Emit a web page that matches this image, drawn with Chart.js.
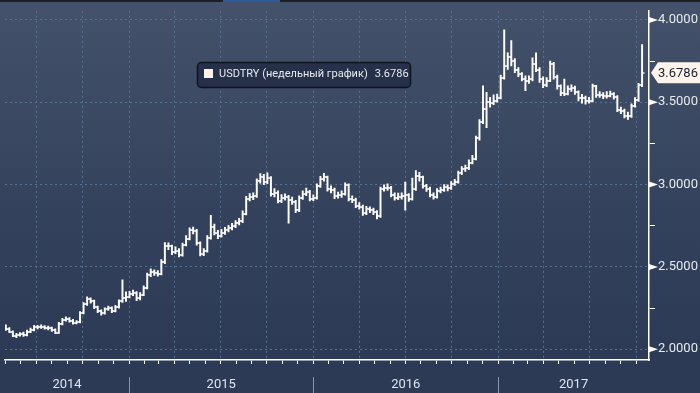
<!DOCTYPE html>
<html>
<head>
<meta charset="utf-8">
<script src="https://cdn.jsdelivr.net/npm/chart.js@4.4.0/dist/chart.umd.min.js"></script>
<style>
  html, body { margin: 0; padding: 0; background: #2c3a56; }
  #wrap { width: 700px; height: 393px; position: relative; }
</style>
</head>
<body>
<div id="wrap"><canvas id="usdtry"></canvas></div>
<script>
// weekly bars, first bar dated this Friday
const firstWeek = "2014-05-02";
const seriesLabel = "USDTRY (недельный график)";
const lastValue = "3.6786";
const yearLabels = ["2014", "2015", "2016", "2017"];
const yTicks = [2.0, 2.25, 2.5, 2.75, 3.0, 3.25, 3.5, 3.75, 4.0];

const opens = [2.140,2.125,2.107,2.083,2.089,2.092,2.086,2.107,2.119,2.136,
  2.133,2.138,2.131,2.128,2.118,2.100,2.154,2.178,2.184,2.172,
  2.160,2.163,2.220,2.273,2.303,2.291,2.255,2.231,2.220,2.243,
  2.249,2.231,2.255,2.291,2.309,2.320,2.338,2.344,2.309,2.332,
  2.374,2.451,2.469,2.466,2.457,2.528,2.629,2.625,2.588,2.599,
  2.570,2.635,2.671,2.724,2.718,2.647,2.576,2.599,2.677,2.742,
  2.706,2.688,2.706,2.724,2.736,2.748,2.766,2.777,2.824,2.914,
  2.926,2.930,3.021,3.045,3.015,3.039,2.944,2.950,2.902,2.920,
  2.926,2.908,2.896,2.843,2.920,2.944,2.955,2.914,2.920,2.991,
  3.033,3.045,2.973,2.968,2.932,2.935,2.944,2.997,2.914,2.908,
  2.872,2.866,2.825,2.849,2.845,2.831,2.807,2.973,2.979,2.982,
  2.938,2.920,2.926,2.932,2.935,2.914,2.973,3.050,3.046,2.991,
  2.973,2.938,2.926,2.961,2.967,2.985,2.979,3.003,3.015,3.068,
  3.092,3.098,3.134,3.157,3.282,3.377,3.460,3.501,3.496,3.507,
  3.525,3.650,3.720,3.775,3.750,3.697,3.672,3.644,3.632,3.644,
  3.733,3.697,3.644,3.602,3.632,3.733,3.656,3.596,3.555,3.552,
  3.579,3.585,3.561,3.525,3.528,3.507,3.510,3.596,3.543,3.546,
  3.537,3.540,3.549,3.531,3.454,3.448,3.418,3.415,3.478,3.513,
  3.602];

const highs = [2.148,2.132,2.112,2.097,2.101,2.104,2.116,2.128,2.145,2.146,
  2.149,2.144,2.140,2.134,2.124,2.163,2.188,2.197,2.192,2.181,
  2.174,2.228,2.284,2.318,2.312,2.298,2.262,2.240,2.251,2.262,
  2.258,2.266,2.300,2.421,2.348,2.352,2.360,2.350,2.344,2.385,
  2.463,2.488,2.482,2.478,2.545,2.648,2.646,2.632,2.622,2.612,
  2.645,2.690,2.738,2.742,2.728,2.652,2.612,2.690,2.813,2.760,
  2.722,2.728,2.740,2.752,2.764,2.781,2.795,2.840,2.928,2.945,
  2.950,3.035,3.067,3.062,3.071,3.048,2.975,2.962,2.940,2.944,
  2.935,2.924,2.905,2.932,2.962,2.978,2.965,2.938,3.005,3.050,
  3.068,3.052,2.992,2.978,2.955,2.962,3.010,3.004,2.932,2.918,
  2.890,2.875,2.868,2.865,2.858,2.842,2.985,2.998,3.005,2.990,
  2.950,2.948,2.950,3.015,2.945,3.040,3.085,3.075,3.052,3.002,
  2.985,2.950,2.975,2.985,3.000,2.998,3.018,3.032,3.082,3.110,
  3.118,3.150,3.178,3.295,3.395,3.600,3.560,3.530,3.545,3.550,
  3.665,3.940,3.800,3.875,3.765,3.710,3.680,3.660,3.660,3.770,
  3.800,3.710,3.655,3.650,3.750,3.742,3.665,3.605,3.640,3.600,
  3.605,3.598,3.570,3.548,3.538,3.530,3.610,3.602,3.565,3.558,
  3.565,3.568,3.558,3.540,3.470,3.458,3.440,3.490,3.528,3.615,
  3.850];

const lows = [2.115,2.100,2.076,2.070,2.080,2.078,2.081,2.101,2.112,2.124,
  2.126,2.122,2.118,2.109,2.094,2.096,2.148,2.170,2.164,2.152,
  2.154,2.160,2.214,2.266,2.280,2.246,2.222,2.207,2.213,2.236,
  2.222,2.226,2.250,2.284,2.290,2.312,2.326,2.295,2.300,2.326,
  2.366,2.440,2.448,2.444,2.452,2.520,2.605,2.574,2.580,2.560,
  2.565,2.628,2.664,2.700,2.632,2.566,2.568,2.590,2.668,2.695,
  2.672,2.680,2.698,2.712,2.724,2.738,2.755,2.768,2.815,2.900,
  2.908,2.922,3.008,3.000,3.005,2.930,2.925,2.888,2.890,2.905,
  2.766,2.880,2.830,2.835,2.910,2.932,2.900,2.902,2.912,2.982,
  3.020,2.960,2.950,2.915,2.918,2.922,2.935,2.900,2.890,2.860,
  2.850,2.812,2.818,2.830,2.818,2.792,2.800,2.960,2.965,2.925,
  2.905,2.908,2.912,2.845,2.898,2.905,2.965,3.020,2.978,2.958,
  2.925,2.912,2.918,2.950,2.958,2.962,2.970,2.995,3.008,3.060,
  3.080,3.090,3.125,3.150,3.270,3.370,3.345,3.470,3.485,3.500,
  3.520,3.640,3.700,3.720,3.680,3.655,3.630,3.570,3.615,3.630,
  3.685,3.620,3.588,3.595,3.625,3.640,3.580,3.540,3.540,3.545,
  3.565,3.548,3.508,3.495,3.488,3.495,3.502,3.530,3.530,3.522,
  3.525,3.532,3.518,3.442,3.430,3.405,3.395,3.408,3.470,3.505,
  3.595];

const closes = [2.125,2.107,2.083,2.089,2.092,2.086,2.107,2.119,2.136,2.133,
  2.138,2.131,2.128,2.118,2.100,2.154,2.178,2.184,2.172,2.160,
  2.163,2.220,2.273,2.303,2.291,2.255,2.231,2.220,2.243,2.249,
  2.231,2.255,2.291,2.309,2.320,2.338,2.344,2.309,2.332,2.374,
  2.451,2.469,2.466,2.457,2.528,2.629,2.625,2.588,2.599,2.570,
  2.635,2.671,2.724,2.718,2.647,2.576,2.599,2.677,2.742,2.706,
  2.688,2.706,2.724,2.736,2.748,2.766,2.777,2.824,2.914,2.926,
  2.930,3.021,3.045,3.015,3.039,2.944,2.950,2.902,2.920,2.926,
  2.908,2.896,2.843,2.920,2.944,2.955,2.914,2.920,2.991,3.033,
  3.045,2.973,2.968,2.932,2.935,2.944,2.997,2.914,2.908,2.872,
  2.866,2.825,2.849,2.845,2.831,2.807,2.973,2.979,2.982,2.938,
  2.920,2.926,2.932,2.935,2.914,2.973,3.050,3.046,2.991,2.973,
  2.938,2.926,2.961,2.967,2.985,2.979,3.003,3.015,3.068,3.092,
  3.098,3.134,3.157,3.282,3.377,3.460,3.501,3.496,3.507,3.525,
  3.650,3.720,3.775,3.750,3.697,3.672,3.644,3.632,3.644,3.733,
  3.697,3.644,3.602,3.632,3.733,3.656,3.596,3.555,3.552,3.579,
  3.585,3.561,3.525,3.528,3.507,3.510,3.596,3.543,3.546,3.537,
  3.540,3.549,3.531,3.454,3.448,3.418,3.415,3.478,3.513,3.602,
  3.6786];

// days counted from 1 Jan 2014
const DAY = 86400000;
const EPOCH = Date.UTC(2014, 0, 1);
function dayNum(y, m, d) { return (Date.UTC(y, m, d) - EPOCH) / DAY; }

const [fy, fm, fd] = firstWeek.split("-").map(Number);
const day0 = dayNum(fy, fm - 1, fd);
const weekDays = closes.map((_, i) => day0 + 7 * i);

const X_MIN = 119.4, X_MAX = 1394.7;

const monthTicks = [];
const quarterDays = new Set();
for (let y = 2014; y <= 2017; y++) {
  for (let m = 0; m < 12; m++) {
    const d = dayNum(y, m, 1);
    if (d < X_MIN || d > X_MAX) continue;
    monthTicks.push(d);
    if (m % 3 === 0) quarterDays.add(d);
  }
}

const GRID = "#557391";
const NONE = "rgba(0,0,0,0)";
const isMajor = v => Math.abs(v * 2 - Math.round(v * 2)) < 1e-6;

function tickMark(side) {
  const c = document.createElement("canvas");
  c.width = 6; c.height = 2;
  const g = c.getContext("2d");
  g.fillStyle = "#ffffff";
  g.fillRect(side === "left" ? 0.5 : 3, 0.35, 2.5, 1.3);
  return c;
}

const decor = {
  id: "decor",
  beforeDraw(chart) {
    const { ctx, width, chartArea } = chart;
    const grad = ctx.createLinearGradient(0, 0, 0, chartArea.bottom);
    grad.addColorStop(0, "#45526b");
    grad.addColorStop(0.15, "#404d67");
    grad.addColorStop(0.4, "#394760");
    grad.addColorStop(0.6, "#33415c");
    grad.addColorStop(1, "#2c3a55");
    ctx.save();
    ctx.fillStyle = grad;
    ctx.fillRect(0, 0, width, chartArea.bottom);
    ctx.fillStyle = "#2c3a56";
    ctx.fillRect(0, chartArea.bottom, width, chart.height - chartArea.bottom);
    // toolbar strip on top
    ctx.fillStyle = "#1d1f24";
    ctx.fillRect(0, 0, width, 2);
    ctx.fillStyle = "#2d5b9e";
    ctx.fillRect(223, 0, 57, 2);
    ctx.restore();
  },
  afterDraw(chart) {
    const { ctx, chartArea } = chart;
    const xs = chart.scales.x, ys = chart.scales.y;
    ctx.save();

    // year separators and labels
    ctx.font = "13px Roboto";
    ctx.fillStyle = "#dfe5ee";
    ctx.textAlign = "center";
    ctx.textBaseline = "middle";
    yearLabels.forEach(lab => {
      const yr = Number(lab);
      const a = Math.max(chartArea.left, xs.getPixelForValue(dayNum(yr, 0, 1)));
      const b = Math.min(chartArea.right, xs.getPixelForValue(dayNum(yr + 1, 0, 1)));
      ctx.fillText(lab, (a + b) / 2, 385);
      if (a > chartArea.left + 1) {
        ctx.strokeStyle = "#8a94a8";
        ctx.lineWidth = 1;
        ctx.beginPath();
        ctx.moveTo(Math.round(a) + 0.5, 377);
        ctx.lineTo(Math.round(a) + 0.5, 393);
        ctx.stroke();
      }
    });

    // pennants on major y ticks
    ctx.fillStyle = "#ffffff";
    yTicks.filter(isMajor).forEach(v => {
      const py = ys.getPixelForValue(v);
      ctx.beginPath();
      ctx.moveTo(chartArea.right, py - 3);
      ctx.lineTo(chartArea.right + 9, py);
      ctx.lineTo(chartArea.right, py + 3);
      ctx.closePath();
      ctx.fill();
    });

    // last price tag
    const ly = ys.getPixelForValue(closes[closes.length - 1]);
    ctx.fillStyle = "#fff4ec";
    ctx.beginPath();
    ctx.moveTo(chartArea.right + 2, ly);
    ctx.lineTo(chartArea.right + 9, ly - 10.5);
    ctx.lineTo(700, ly - 10.5);
    ctx.lineTo(700, ly + 10.5);
    ctx.lineTo(chartArea.right + 9, ly + 10.5);
    ctx.closePath();
    ctx.fill();
    ctx.fillStyle = "#1a2131";
    ctx.font = "13px Roboto";
    ctx.textAlign = "left";
    ctx.fillText(lastValue, chartArea.right + 9, ly + 0.5);

    // legend box
    ctx.beginPath();
    ctx.roundRect(197.5, 62.5, 213, 25, 4);
    ctx.fillStyle = "#263149";
    ctx.fill();
    ctx.strokeStyle = "#0e1320";
    ctx.lineWidth = 1.5;
    ctx.stroke();
    ctx.fillStyle = "#fff1ec";
    ctx.fillRect(204, 69, 9, 9);
    ctx.fillStyle = "#e6e9f0";
    ctx.font = "11px Roboto";
    ctx.textAlign = "left";
    ctx.fillText(seriesLabel, 219, 74.5);
    const w = ctx.measureText(seriesLabel).width;
    ctx.fillText(lastValue, Math.max(219 + w + 7, 371), 74.5);
    ctx.restore();
  }
};

Chart.defaults.font.family = "Roboto";

new Chart(document.getElementById("usdtry"), {
  type: "bar",
  data: {
    datasets: [
      {
        type: "bar",
        data: weekDays.map((d, i) => ({ x: d, y: [lows[i], highs[i]] })),
        backgroundColor: "#ffffff",
        borderWidth: 0,
        barThickness: 1.3,
        grouped: false
      },
      {
        type: "scatter",
        data: weekDays.map((d, i) => ({ x: d, y: opens[i] })),
        pointStyle: tickMark("left"),
        pointRadius: 3,
        showLine: false
      },
      {
        type: "scatter",
        data: weekDays.map((d, i) => ({ x: d, y: closes[i] })),
        pointStyle: tickMark("right"),
        pointRadius: 3,
        showLine: false
      }
    ]
  },
  options: {
    responsive: true,
    maintainAspectRatio: false,
    animation: false,
    events: [],
    layout: { padding: { top: 3, left: 0, right: 0, bottom: 0 } },
    plugins: { legend: { display: false }, tooltip: { enabled: false } },
    scales: {
      x: {
        type: "linear",
        position: "bottom",
        offset: false,
        min: X_MIN,
        max: X_MAX,
        afterBuildTicks: s => { s.ticks = monthTicks.map(v => ({ value: v })); },
        afterFit: s => { s.height = 33; },
        ticks: { display: false },
        grid: {
          offset: false,
          color: c => (c.tick && quarterDays.has(c.tick.value)) ? GRID : NONE,
          tickColor: "#ffffff",
          tickLength: 4,
          lineWidth: 1
        },
        border: { display: true, color: "#ffffff", width: 1.5, dash: [2, 3] }
      },
      y: {
        type: "linear",
        position: "right",
        min: 1.9347,
        max: 4.0553,
        afterBuildTicks: s => { s.ticks = yTicks.map(v => ({ value: v })); },
        afterFit: s => { s.width = 51; },
        ticks: {
          autoSkip: false,
          padding: 3,
          color: "#e6e9f0",
          font: { size: 13 },
          callback: v => isMajor(v) ? v.toFixed(4) : ""
        },
        grid: {
          color: c => (c.tick && isMajor(c.tick.value)) ? GRID : NONE,
          tickColor: c => (c.tick && isMajor(c.tick.value)) ? NONE : "#ffffff",
          tickLength: 6,
          lineWidth: 1
        },
        border: { display: true, color: "#ffffff", width: 1.5, dash: [2, 3] }
      }
    }
  },
  plugins: [decor]
});
</script>
</body>
</html>
